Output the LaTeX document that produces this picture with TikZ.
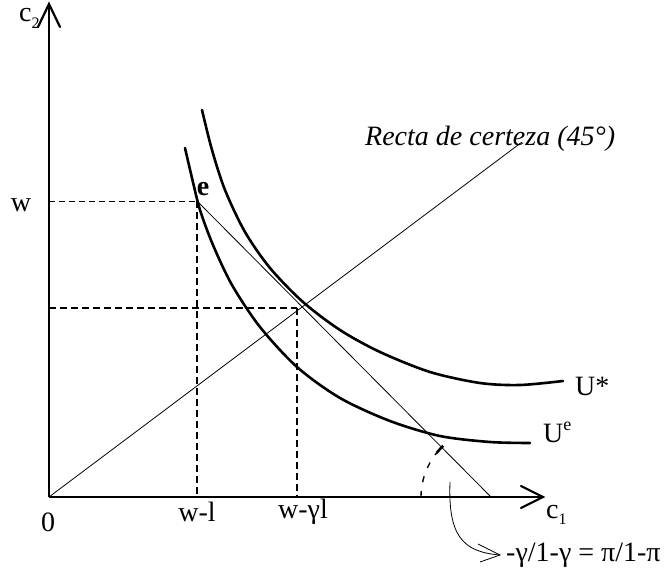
\documentclass[tikz,border=0pt]{standalone}
\usepackage{fontspec}
\setmainfont{Liberation Serif}
\usetikzlibrary{calc}
\newcommand{\subs}[1]{\raisebox{-0.22em}{\fontsize{16}{16}\selectfont #1}}
\newcommand{\sups}[1]{\raisebox{0.42em}{\fontsize{18}{18}\selectfont #1}}
\begin{document}
\begin{tikzpicture}[x=1pt,y=-1pt,
  lbl/.style={inner sep=0pt,font=\fontsize{28}{30}\selectfont},
  axis/.style={line width=2.2pt},
  curve/.style={line width=2.6pt, line cap=round},
  thin/.style={line width=0.8pt},
  dsh/.style={line width=1.8pt, dash pattern=on 7pt off 4pt},
  dshthin/.style={line width=0.9pt, dash pattern=on 6pt off 4pt}]
\useasboundingbox (0,0) rectangle (667,580);
% key points
\coordinate (O) at (49,497);
\coordinate (Y) at (49,4);
\coordinate (X) at (543,497);
\coordinate (e) at (197,201);
\coordinate (B) at (491,497);
\coordinate (T) at (297,308);
\coordinate (Cx) at (49,201);
\coordinate (Cb) at (197,497);
\coordinate (Tx) at (49,308);
\coordinate (Tb) at (297,497);
\coordinate (L45) at (522,142);
% axes
\draw[axis] (O) -- (Y);
\draw[axis] (O) -- (X);
\draw[axis, line cap=round] ($(Y)+(-11,23)$) -- (Y) -- ($(Y)+(11,23)$);
\draw[axis, line cap=round] ($(X)+(-22,-11)$) -- (X) -- ($(X)+(-22,11)$);
% dashed guides
\draw[dshthin] (Cx) -- (e);
\draw[dsh] (e) -- (Cb);
\draw[dsh] (Tx) -- (T);
\draw[dsh] (T) -- (Tb);
% certainty line and budget line
\draw[thin] (O) -- (L45);
\draw[thin] (e) -- (B);
% indifference curves
\draw[curve] plot[smooth, tension=0.5] coordinates {(202,110) (212,150) (225,190) (245,232) (270,268) (303,302) (340,330) (380,352) (430,372) (480,383) (520,385) (563,381)};
\draw[curve] plot[smooth, tension=0.5] coordinates {(185,148) (192,178) (200,210) (213,245) (232,285) (260,327) (297,367) (340,398) (390,421) (440,436) (490,442) (530,443)};
% angle mark
\draw[line width=1.4pt, dash pattern=on 6pt off 9pt] ($(B)+(180:70)$) arc[start angle=180, end angle=219, radius=70];
\draw[line width=2.6pt] ($(B)+(219:70)$) arc[start angle=219, end angle=227, radius=70];
% curved arrow to slope label
\coordinate (A0) at (450,482);
\coordinate (A1) at (500,555);
\draw[thin] (A0) .. controls (448,535) and (462,552) .. (A1);
\draw[thin] ($(A1)+(-22,-11)$) -- (A1) -- ($(A1)+(-20,7)$);
% labels
\node[lbl, anchor=base west] at (19,22) {c\subs{2}};
\node[lbl] at (21,205) {w};
\node[lbl] at (48,522) {0};
\node[lbl] at (197,512) {w-l};
\node[lbl] at (303,512) {w-γl};
\node[lbl, anchor=base west] at (546,518) {c\subs{1}};
\node[lbl, anchor=west] at (575,386) {U*};
\node[lbl, anchor=base west] at (543,442) {U\sups{e}};
\node[lbl, anchor=base] at (203,196) {\textbf{e}};
\node[lbl, anchor=base west] at (365,146) {\textit{Recta de certeza (45°)}};
\node[lbl, anchor=west] at (506,555) {-γ/1-γ = π/1-π};
\end{tikzpicture}
\end{document}
